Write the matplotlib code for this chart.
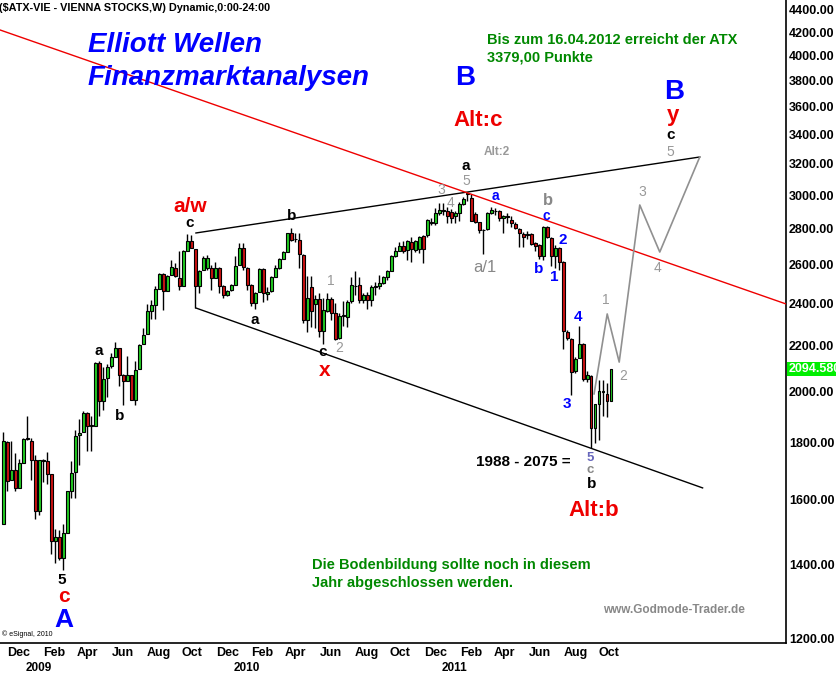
import numpy as np
import pandas as pd
import matplotlib
matplotlib.use("Agg")
import matplotlib.pyplot as plt
import matplotlib.dates as mdates
import matplotlib.transforms as mtransforms

# weekly ATX candles, Nov 2008 - Oct 2011
dates = pd.date_range("2008-11-24", periods=153, freq="7D")
opens = [1520, 1803, 1665, 1700, 1640, 1725, 1813, 1806, 1735, 1563, 1737, 1733, 1686, 1468, 1481, 1418,
         1494, 1630, 1692, 1828, 1838, 1915, 1863, 1863, 2121, 1962, 2055, 2110, 2149, 2190, 2069, 2045,
         2069, 1965, 2094, 2204, 2253, 2362, 2393, 2472, 2548, 2459, 2544, 2582, 2530, 2486, 2675, 2728,
         2683, 2486, 2570, 2580, 2580, 2528, 2580, 2486, 2440, 2466, 2494, 2595, 2688, 2580, 2490, 2400,
         2454, 2575, 2447, 2459, 2535, 2580, 2630, 2667, 2772, 2740, 2734, 2651, 2318, 2480, 2396, 2422,
         2265, 2360, 2422, 2352, 2232, 2337, 2334, 2410, 2484, 2494, 2416, 2440, 2416, 2480, 2484, 2500,
         2532, 2566, 2647, 2675, 2700, 2679, 2725, 2679, 2683, 2755, 2760, 2834, 2830, 2890, 2909, 2900,
         2896, 2870, 2893, 2945, 3005, 2982, 2885, 2835, 2791, 2795, 2890, 2905, 2905, 2860, 2873, 2850,
         2825, 2795, 2768, 2760, 2768, 2716, 2706, 2647, 2810, 2744, 2647, 2688, 2615, 2263, 2228, 2088,
         2144, 2204, 2051, 2063, 1853, 1948, 1996, 1991, 1962]
highs = [1840, 1805, 1805, 1760, 1740, 1815, 1900, 1816, 1755, 1737, 1740, 1764, 1688, 1506, 1503, 1521,
         1630, 1733, 1847, 1890, 1921, 1918, 1903, 2124, 2130, 2105, 2117, 2167, 2216, 2190, 2074, 2152,
         2069, 2131, 2204, 2279, 2398, 2418, 2486, 2556, 2553, 2542, 2624, 2606, 2673, 2679, 2768, 2762,
         2683, 2570, 2643, 2650, 2597, 2615, 2585, 2490, 2466, 2495, 2643, 2716, 2716, 2585, 2495, 2455,
         2580, 2580, 2482, 2540, 2594, 2635, 2670, 2775, 2800, 2772, 2775, 2655, 2536, 2536, 2441, 2450,
         2425, 2450, 2430, 2400, 2354, 2413, 2418, 2532, 2565, 2532, 2450, 2458, 2494, 2505, 2542, 2540,
         2570, 2650, 2697, 2725, 2729, 2735, 2750, 2735, 2755, 2765, 2855, 2860, 2920, 2950, 2952, 2925,
         2915, 2900, 2960, 2990, 3018, 3008, 2895, 2840, 2795, 2895, 2925, 2918, 2910, 2878, 2893, 2873,
         2835, 2800, 2781, 2785, 2772, 2725, 2712, 2815, 2815, 2750, 2706, 2695, 2620, 2270, 2235, 2147,
         2290, 2210, 2085, 2070, 1950, 2048, 2048, 2034, 2097]
lows = [1520, 1630, 1665, 1630, 1640, 1725, 1810, 1665, 1537, 1550, 1660, 1651, 1430, 1405, 1413, 1383,
        1494, 1606, 1606, 1719, 1838, 1770, 1770, 1863, 1903, 1925, 1976, 2099, 2149, 2022, 1945, 2045,
        1965, 1945, 2094, 2204, 2253, 2321, 2321, 2472, 2367, 2459, 2544, 2535, 2466, 2486, 2675, 2688,
        2376, 2449, 2570, 2570, 2466, 2528, 2449, 2428, 2435, 2460, 2494, 2595, 2570, 2466, 2384, 2370,
        2454, 2408, 2416, 2455, 2535, 2575, 2630, 2667, 2730, 2725, 2580, 2302, 2263, 2286, 2280, 2236,
        2205, 2355, 2318, 2224, 2228, 2290, 2285, 2400, 2440, 2400, 2400, 2370, 2388, 2441, 2470, 2495,
        2520, 2566, 2640, 2670, 2660, 2624, 2615, 2665, 2660, 2607, 2750, 2820, 2820, 2880, 2880, 2830,
        2830, 2830, 2845, 2940, 2966, 2842, 2830, 2772, 2656, 2790, 2885, 2880, 2842, 2775, 2830, 2810,
        2795, 2697, 2697, 2740, 2706, 2670, 2628, 2624, 2745, 2590, 2580, 2570, 2184, 2225, 1985, 2078,
        2144, 2045, 2040, 1778, 1800, 1810, 1903, 1897, 1962]
closes = [1805, 1664, 1700, 1640, 1725, 1813, 1817, 1735, 1563, 1737, 1733, 1688, 1468, 1481, 1418, 1492,
          1630, 1690, 1825, 1836, 1915, 1863, 1865, 2121, 1962, 2051, 2105, 2149, 2190, 2069, 2045, 2069,
          1965, 2091, 2201, 2248, 2361, 2389, 2469, 2551, 2459, 2539, 2587, 2539, 2486, 2670, 2728, 2688,
          2486, 2565, 2634, 2636, 2528, 2580, 2486, 2440, 2462, 2490, 2590, 2688, 2585, 2494, 2400, 2449,
          2575, 2449, 2458, 2535, 2580, 2628, 2665, 2772, 2734, 2738, 2656, 2318, 2425, 2360, 2422, 2265,
          2367, 2422, 2352, 2228, 2337, 2340, 2404, 2490, 2488, 2416, 2440, 2416, 2480, 2486, 2500, 2532,
          2565, 2647, 2673, 2700, 2670, 2729, 2683, 2729, 2750, 2683, 2850, 2838, 2890, 2909, 2900, 2870,
          2860, 2893, 2945, 2975, 3010, 2842, 2835, 2791, 2793, 2890, 2909, 2903, 2860, 2873, 2866, 2830,
          2801, 2772, 2749, 2770, 2712, 2700, 2647, 2810, 2753, 2647, 2688, 2615, 2265, 2232, 2084, 2140,
          2204, 2051, 2069, 1853, 1947, 2000, 2000, 1962, 2094.58]
last_price = 2094.58

# trend lines and wave projection (date, price)
upper_dates = ["2009-10-27", "2012-03-27"]
upper_prices = [2774, 3245]
lower_dates = ["2009-10-27", "2012-04-01"]
lower_prices = [2376, 1639]
red_dates = ["2008-11-18", "2012-08-25"]
red_prices = [4218, 2396]
proj_dates = ["2011-09-24", "2011-10-17", "2011-11-07", "2011-12-13", "2012-01-17", "2012-03-27"]
proj_prices = [1990, 2347, 2125, 2939, 2667, 3245]

yticks = list(range(1200, 4401, 200))
month_ticks = pd.date_range("2008-12-01", "2011-10-01", freq="2MS")
year_ticks = pd.to_datetime(["2009-01-01", "2010-01-01", "2011-01-01"])

W, H = 837, 675
fig = plt.figure(figsize=(W / 100, H / 100), dpi=100)
ax = fig.add_axes([0, 32 / H, 786 / W, 1 - 32 / H])

x = mdates.date2num(dates)
o = np.array(opens); c = np.array(closes); hi = np.array(highs); lo = np.array(lows)
up = c >= o
ax.vlines(x, lo, hi, color="black", lw=1, zorder=3)
body_bot = np.minimum(o, c)
body_h = np.maximum(np.abs(c - o), 0.5)
ax.bar(x, body_h, bottom=body_bot, width=4.5,
       color=np.where(up, "#22CC22", "#CC1111"), edgecolor="black", linewidth=0.8, zorder=4)

def dn(ds):
    return mdates.date2num(pd.to_datetime(ds))

ax.plot(dn(upper_dates), upper_prices, color="black", lw=1, zorder=5)
ax.plot(dn(lower_dates), lower_prices, color="black", lw=1, zorder=5)
ax.plot(dn(red_dates), red_prices, color="#EE0000", lw=1, zorder=5)
ax.plot(dn(proj_dates), proj_prices, color="#909090", lw=1.2, zorder=5)

ax.set_yscale("log")
ax.set_ylim(1190, 4487)
ax.set_xlim(dn("2008-11-18"), dn("2012-08-25"))
ax.yaxis.tick_right()
ax.yaxis.set_major_locator(matplotlib.ticker.FixedLocator(yticks))
ax.yaxis.set_minor_locator(matplotlib.ticker.NullLocator())
ax.set_yticklabels([f"{v:.2f}" for v in yticks], fontsize=9, fontweight="bold", family="Liberation Sans")
ax.tick_params(axis="y", length=0, pad=2)

ax.set_xticks(mdates.date2num(month_ticks))
ax.set_xticklabels([d.strftime("%b") for d in month_ticks], fontsize=9, fontweight="bold",
                   family="Liberation Sans", ha="left")
ax.set_xticks(mdates.date2num(year_ticks), minor=True)
ax.set_xticklabels([d.strftime("%Y") for d in year_ticks], minor=True, fontsize=8.5, fontweight="bold",
                   family="Liberation Sans", ha="left")
ax.tick_params(axis="x", which="major", length=0, pad=3)
ax.tick_params(axis="x", which="minor", length=0, pad=14)

for s in ["left", "top"]:
    ax.spines[s].set_visible(False)
for s in ["right", "bottom"]:
    ax.spines[s].set_linewidth(1.2)

# last price marker
trans = mtransforms.blended_transform_factory(ax.transAxes, ax.transData)
ax.text(1.003, last_price, f"{last_price:.3f}", transform=trans, ha="left", va="center",
        fontsize=9, fontweight="bold", color="white", family="Liberation Sans",
        bbox=dict(boxstyle="square,pad=0.1", fc="#00EE00", ec="none"), clip_on=False)

def t(px, py, s, color="black", size=11, weight="bold", style="normal", ha="center", fam="Liberation Sans"):
    fig.text(px / W, 1 - py / H, s, color=color, fontsize=size, fontweight=weight, style=style,
             ha=ha, va="center", family=fam, zorder=10)

t(-1, 8, "($ATX-VIE - VIENNA STOCKS,W) Dynamic,0:00-24:00", size=7.8, ha="left")
t(2, 634, "© eSignal, 2010", size=5, weight="normal", ha="left")
t(88, 45, "Elliott Wellen", color="#0000FF", size=20, style="italic", ha="left")
t(88, 78, "Finanzmarktanalysen", color="#0000FF", size=20, style="italic", ha="left")
t(487, 40, "Bis zum 16.04.2012 erreicht der ATX", color="#008800", size=10.5, ha="left")
t(487, 57, "3379,00 Punkte", color="#008800", size=10.5, ha="left")
t(312, 565, "Die Bodenbildung sollte noch in diesem", color="#008800", size=10.5, ha="left")
t(312, 583, "Jahr abgeschlossen werden.", color="#008800", size=10.5, ha="left")
t(603, 610, "www.Godmode-Trader.de", color="#888888", size=8.5, ha="left")
t(476, 462, "1988 - 2075 =", size=11, ha="left")

# wave labels
t(465, 78, "B", color="#0000FF", size=20)
t(478, 120, "Alt:c", color="#EE0000", size=16)
t(466, 166, "a", size=11)
t(466, 181, "5", color="#999999", size=10, weight="normal")
t(497, 152, "Alt:2", color="#999999", size=8.5)
t(441, 190, "3", color="#999999", size=10, weight="normal")
t(451, 203, "4", color="#999999", size=10, weight="normal")
t(495, 196, "a", color="#0000FF", size=10)
t(485, 268, "a/1", color="#888888", size=12, weight="normal")
t(548, 201, "b", color="#888888", size=12)
t(546, 216, "c", color="#0000FF", size=10)
t(563, 240, "2", color="#0000FF", size=11)
t(539, 269, "b", color="#0000FF", size=11)
t(554, 277, "1", color="#0000FF", size=11)
t(578, 317, "4", color="#0000FF", size=11)
t(567, 404, "3", color="#0000FF", size=11)
t(590, 458, "5", color="#6666BB", size=9.5)
t(590, 470, "c", color="#888888", size=9.5)
t(592, 484, "b", size=11)
t(594, 510, "Alt:b", color="#EE0000", size=16)
t(674, 92, "B", color="#0000FF", size=20)
t(673, 115, "y", color="#EE0000", size=16)
t(671, 135, "c", size=11)
t(670, 152, "5", color="#999999", size=10, weight="normal")
t(642, 192, "3", color="#999999", size=10, weight="normal")
t(658, 268, "4", color="#999999", size=10, weight="normal")
t(606, 300, "1", color="#999999", size=10, weight="normal")
t(623, 376, "2", color="#999999", size=10, weight="normal")
t(190, 206, "a/w", color="#EE0000", size=15)
t(190, 223, "c", size=11)
t(292, 216, "b", size=11)
t(255, 320, "a", size=11)
t(331, 281, "1", color="#999999", size=10, weight="normal")
t(339, 348, "2", color="#999999", size=10, weight="normal")
t(323, 352, "c", size=11)
t(325, 370, "x", color="#EE0000", size=15)
t(99, 351, "a", size=11)
t(120, 416, "b", size=11)
t(62, 580, "5", size=11)
t(64, 597, "c", color="#EE0000", size=15)
t(64, 620, "A", color="#0000FF", size=19)

fig.savefig("out.png", dpi=100, facecolor="white")
